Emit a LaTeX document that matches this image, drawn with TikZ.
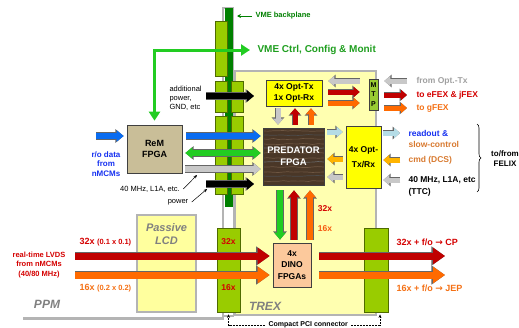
\documentclass[tikz,border=0pt]{standalone}
\usepackage{fontspec}
\setmainfont{Liberation Sans}
\newfontfamily\symfont{DejaVu Sans}
\usetikzlibrary{arrows.meta,decorations.pathreplacing,decorations.pathmorphing}

\definecolor{conngreen}{HTML}{99CC00}
\definecolor{connedge}{HTML}{4F6B00}
\definecolor{vmedark}{HTML}{008000}
\definecolor{vmegreen}{HTML}{22CC22}
\definecolor{vmetext}{HTML}{1E9E1E}
\definecolor{boardgray}{HTML}{B4B4B4}
\definecolor{trexyellow}{HTML}{FFFFB0}
\definecolor{lcdyellow}{HTML}{FFFF9E}
\definecolor{optyellow}{HTML}{FFFF00}
\definecolor{remtan}{HTML}{C9BE98}
\definecolor{dinopeach}{HTML}{FCC99C}
\definecolor{mtpgreen}{HTML}{99CC33}
\definecolor{wood}{HTML}{4A3727}
\definecolor{woodlight}{HTML}{6E5642}
\definecolor{sigred}{HTML}{C00000}
\definecolor{sigorange}{HTML}{FF6A00}
\definecolor{sigblue}{HTML}{0A6CF0}
\definecolor{siggray}{HTML}{C8C8C8}
\definecolor{siglblue}{HTML}{B4DCE6}
\definecolor{sigamber}{HTML}{FFB400}
\definecolor{txtred}{HTML}{D40000}
\definecolor{txtorange}{HTML}{F47014}
\definecolor{txtbrown}{HTML}{D87A30}
\definecolor{txtblue}{HTML}{1530F0}
\definecolor{txtgray}{HTML}{A0A0A0}
\definecolor{labelgray}{HTML}{808080}

\newcommand{\boxfont}{\fontsize{8.5}{10.5}\selectfont\bfseries}
\newcommand{\lblfont}{\fontsize{8.5}{11}\selectfont\bfseries}
\newcommand{\notefont}{\fontsize{7.5}{9}\selectfont}
\newcommand{\notebold}{\fontsize{7.5}{9.5}\selectfont\bfseries}
\newcommand{\boardfont}{\fontsize{12}{13}\selectfont\bfseries\itshape}

\tikzset{
  arrS/.style={draw=#1, line width=5pt, -{Triangle[width=10pt,length=6pt]},
    preaction={draw=black!60, line width=6.2pt, -{Triangle[width=12.4pt,length=7.4pt]}}},
  arrM/.style={draw=#1, line width=6pt, -{Triangle[width=11pt,length=7pt]},
    preaction={draw=black!60, line width=7.2pt, -{Triangle[width=13.4pt,length=8.4pt]}}},
  arrMboth/.style={draw=#1, line width=6pt, {Triangle[width=11pt,length=7pt]}-{Triangle[width=11pt,length=7pt]},
    preaction={draw=black!60, line width=7.2pt, {Triangle[width=13.4pt,length=8.4pt]}-{Triangle[width=13.4pt,length=8.4pt]}}},
  arrL/.style={draw=#1, line width=7pt, -{Triangle[width=16pt,length=12pt]},
    preaction={draw=black!60, line width=8.2pt, -{Triangle[width=18.4pt,length=13.6pt]}}},
  box/.style={draw=black!75, line width=0.6pt, inner sep=0pt, align=center, font=\boxfont},
  connbox/.style={draw=connedge, fill=conngreen, line width=0.8pt, inner sep=0pt},
  pointer/.style={draw=black, line width=0.5pt, -{Stealth[length=3.5pt,width=3pt]}},
  woodline/.style={draw=#1, line width=0.7pt, decorate,
    decoration={random steps, segment length=5pt, amplitude=0.5pt}},
}

\begin{document}
\begin{tikzpicture}[x=1pt,y=-1pt]
    \useasboundingbox (0,0) rectangle (519,327);

    % PPM board edge and VME backplane slot
    \draw[boardgray, line width=2.5pt] (23,318.5) -- (224,318.5);
    \draw[boardgray, fill=white, line width=1.6pt] (223,8) rectangle (233.5,316);
    \fill[vmedark] (225,8) rectangle (232.5,207);

    % TREX board
    \draw[boardgray, fill=trexyellow, line width=2pt] (235,71) rectangle (376,315);

    % Passive LCD
    \node[draw=boardgray, fill=lcdyellow, line width=1.2pt, minimum width=59pt,
          minimum height=97pt, inner sep=0pt] (lcd) at (166.5,263.5) {};
    \node[font=\fontsize{11}{13}\selectfont\bfseries\itshape, text=labelgray, align=center]
          at ([yshift=-20pt]lcd.north) {Passive\\LCD};

    % backplane connectors
    \foreach \xa/\ya/\xb/\yb in {215/21/227/76, 215/81/227/112, 231/81/243/112,
                                 215/116/227/194, 231/116/243/194}
      \draw[connbox] (\xa,\ya) rectangle (\xb,\yb);

    % Compact PCI connectors
    \node[connbox, minimum width=23pt, minimum height=84pt] (conL) at (228.5,270) {};
    \node[connbox, minimum width=24pt, minimum height=84pt] (conR) at (376,270) {};
    \node[font=\boxfont, text=txtred] at ([yshift=-14pt]conL.north) {32x};
    \node[font=\boxfont, text=txtred] at ([yshift=-60pt]conL.north) {16x};

    % FPGAs and optical modules
    \node[box, fill=remtan, minimum width=55pt, minimum height=48pt, font=\fontsize{9}{11}\selectfont\bfseries]
          (rem) at (154.5,149) {ReM\\FPGA};
    \node[box, fill=wood, text=white, minimum width=61pt, minimum height=57pt,
          font=\fontsize{9.5}{12}\selectfont\bfseries,
          path picture={
            \foreach \dy/\cc in {3/woodlight, 7/black!70, 11/woodlight, 16/woodlight, 20/black!60,
                                 25/woodlight, 30/woodlight, 34/black!60, 39/woodlight,
                                 44/woodlight, 48/black!70, 53/woodlight}
              \draw[woodline=\cc] ([yshift=-\dy pt]path picture bounding box.north west)
                                  -- ([yshift=-\dy pt]path picture bounding box.north east);
          }] (pred) at (293.5,156.5) {PREDATOR\\FPGA};
    \node[box, fill=optyellow, minimum width=56pt, minimum height=26pt] (opttx) at (294,93) {4x Opt-Tx\\1x Opt-Rx};
    \node[box, fill=mtpgreen, minimum width=9pt, minimum height=31pt,
          font=\fontsize{7}{9.5}\selectfont\bfseries] (mtp) at (373.5,94.5) {M\\T\\P};
    \node[box, fill=optyellow, minimum width=35pt, minimum height=62pt,
          font=\fontsize{8.5}{15}\selectfont\bfseries] (optrx) at (363.5,157) {4x Opt-\\Tx/Rx};
    \node[box, fill=dinopeach, minimum width=38pt, minimum height=44pt,
          font=\fontsize{8.5}{11.5}\selectfont\bfseries] (dino) at (292,265) {4x\\DINO\\FPGAs};

    % labels on the right
    \node[anchor=west, font=\lblfont, text=txtgray] (fromtx) at (413,81) {from Opt.-Tx};
    \node[anchor=west, font=\lblfont, text=txtred] (toefex) at (413,95) {to eFEX \& jFEX};
    \node[anchor=west, font=\lblfont, text=txtorange] (togfex) at (413,108) {to gFEX};
    \node[anchor=west, font=\lblfont, text=txtblue] (readout) at (405,133) {readout \&};
    \node[anchor=west, font=\lblfont, text=txtbrown] (slowctl) at (405,144) {slow-control};
    \node[anchor=west, font=\lblfont, text=txtbrown] (cmd) at (405,160) {cmd (DCS)};
    \node[anchor=west, font=\lblfont] (ttc) at (405,180) {40 MHz, L1A, etc};
    \node[anchor=west, font=\lblfont] (ttcb) at (405,192) {(TTC)};
    \node[font=\fontsize{8}{10}\selectfont\bfseries, align=center] (felix) at (505,159) {to/from\\FELIX};
    \draw[line width=0.6pt, decorate, decoration={brace, amplitude=4pt}] (477,124) -- (477,192);

    % labels on the left
    \node[anchor=west, font=\notefont, align=left] (addpwr) at (166,98) {additional\\power,\\GND, etc};
    \node[font=\notefont] (clk) at (150,189) {40 MHz, L1A, etc.};
    \node[font=\notefont] (pwr) at (178,202) {power};
    \node[font=\fontsize{8}{9.5}\selectfont\bfseries, text=txtblue, align=center] (rodata) at (106,164) {r/o data\\from\\nMCMs};
    \node[font=\notebold, text=txtred, align=center] (lvds) at (39,265) {real-time LVDS\\from nMCMs\\(40/80 MHz)};
    \node[anchor=west, text=txtred] (in32) at (76,242) {\fontsize{9}{11}\selectfont\bfseries 32x \fontsize{7.5}{9}\selectfont(0.1 x 0.1)};
    \node[anchor=west, text=txtorange] (in16) at (76,288) {\fontsize{9}{11}\selectfont\bfseries 16x \fontsize{7.5}{9}\selectfont(0.2 x 0.2)};
    \node[font=\boardfont, text=labelgray] (ppm) at (47,304) {PPM};
    \node[font=\boardfont, text=labelgray] (trex) at (265,306) {TREX};
    \node[anchor=west, font=\fontsize{7}{9}\selectfont\bfseries] (pcitxt) at (265,325) {Compact PCI connector};

    % VME
    \node[anchor=west, font=\fontsize{7.5}{9}\selectfont\bfseries, text=vmedark] (vbtxt) at (252,16) {VME backplane};
    \node[anchor=west, font=\fontsize{10}{12}\selectfont\bfseries, text=vmetext] (vmetxt) at (254,50) {VME Ctrl, Config \& Monit};
    \draw[vmedark, line width=0.7pt, -{Stealth[length=4pt,width=4pt]}] (vbtxt.west) -- (237,16);
    \draw[vmegreen, line width=3pt, shorten <=4pt, shorten >=4pt,
          {Triangle[length=9pt,width=11pt]}-{Triangle[length=9pt,width=11pt]}] (vmetxt.west) -| (rem.north);

    % ReM to PREDATOR
    \draw[arrM=sigblue, shorten >=3pt] (96,136) -- (rem.west |- 0,136);
    \draw[arrM=sigblue, shorten <=4pt, shorten >=2pt] (rem.east |- 0,136) -- (pred.west |- 0,136);
    \draw[arrMboth=vmegreen, shorten <=3pt, shorten >=2pt] (rem.east |- 0,153) -- (pred.west |- 0,153);
    \draw[arrM=siggray, shorten <=3pt, shorten >=2pt] (rem.east |- 0,169) -- (pred.west |- 0,169);
    \draw[arrM=black] (206,96) -- (254,96);
    \draw[arrM=black] (206,184) -- (254,184);
    \draw[pointer] (clk.east) -- (197,175);
    \draw[pointer] (pwr.east) -- (207,189);

    % Opt-Tx and MTP
    \draw[arrS=siggray, shorten <=9pt, shorten >=6pt] (mtp.west |- 0,81) -- (opttx.east |- 0,81);
    \draw[arrS=sigred, shorten <=6pt, shorten >=9pt] (opttx.east |- 0,92) -- (mtp.west |- 0,92);
    \draw[arrS=sigorange, shorten <=6pt, shorten >=9pt] (opttx.east |- 0,103) -- (mtp.west |- 0,103);
    \draw[arrS=siggray, shorten <=6pt, shorten >=6pt] (fromtx.west) -- (mtp.east |- fromtx.west);
    \draw[arrS=sigred, shorten <=6pt, shorten >=6pt] (mtp.east |- toefex.west) -- (toefex.west);
    \draw[arrS=sigorange, shorten <=6pt, shorten >=6pt] (mtp.east |- togfex.west) -- (togfex.west);
    \draw[arrS=siggray, shorten <=2pt, shorten >=3pt] (278,0 |- opttx.south) -- (278,0 |- pred.north);
    \draw[arrS=sigred, shorten <=3pt, shorten >=2pt] (295,0 |- pred.north) -- (295,0 |- opttx.south);
    \draw[arrS=sigorange, shorten <=3pt, shorten >=2pt] (311,0 |- pred.north) -- (311,0 |- opttx.south);

    % PREDATOR and Opt-Tx/Rx
    \draw[arrS=siglblue, shorten <=3pt, shorten >=3pt] (pred.east |- 0,132) -- (optrx.west |- 0,132);
    \draw[arrS=sigamber, shorten <=3pt, shorten >=3pt] (optrx.west |- 0,159) -- (pred.east |- 0,159);
    \draw[arrS=siggray, shorten <=3pt, shorten >=3pt] (optrx.west |- 0,177) -- (pred.east |- 0,177);
    \draw[arrS=siglblue, shorten <=2pt, shorten >=5pt] (optrx.east |- readout.west) -- (readout.west);
    \draw[arrS=sigamber, shorten <=5pt, shorten >=2pt] (cmd.west) -- (optrx.east |- cmd.west);
    \draw[arrS=siggray, shorten <=5pt, shorten >=2pt] (ttc.west) -- (optrx.east |- ttc.west);

    % PREDATOR and DINO
    \draw[arrM=vmegreen, shorten <=5pt, shorten >=3pt] (280,0 |- pred.south) -- (280,0 |- dino.north);
    \draw[arrM=sigred, shorten <=3pt, shorten >=5pt] (294,0 |- dino.north) -- (294,0 |- pred.south);
    \draw[arrM=sigorange, shorten <=3pt, shorten >=5pt] (310,0 |- dino.north) -- (310,0 |- pred.south);
    \node[font=\boxfont, text=txtred] at (325,209) {32x};
    \node[font=\boxfont, text=txtorange!80!red] at (325,229) {16x};

    % real-time LVDS
    \draw[arrL=sigred, shorten >=3pt] (75,256) -- (dino.west |- 0,256);
    \draw[arrL=sigorange, shorten >=3pt] (75,275) -- (dino.west |- 0,275);
    \draw[arrL=sigred, shorten <=8pt] (dino.east |- 0,256) -- (445,256);
    \draw[arrL=sigorange, shorten <=8pt] (dino.east |- 0,275) -- (445,275);
    \node[anchor=west, font=\fontsize{9}{11}\selectfont\bfseries, text=txtred] (tocp) at (393,242) {32x + f/o {\symfont\bfseries →} CP};
    \node[anchor=west, font=\fontsize{9}{11}\selectfont\bfseries, text=txtorange] (tojep) at (393,288) {16x + f/o {\symfont\bfseries →} JEP};

    % Compact PCI pointers
    \draw[pointer, dash pattern=on 2pt off 1pt] (pcitxt.west) -| ([yshift=-2pt]conL.south);
    \draw[pointer, dash pattern=on 2pt off 1pt] (pcitxt.east) -| ([xshift=4pt,yshift=-2pt]conR.south);
\end{tikzpicture}
\end{document}
